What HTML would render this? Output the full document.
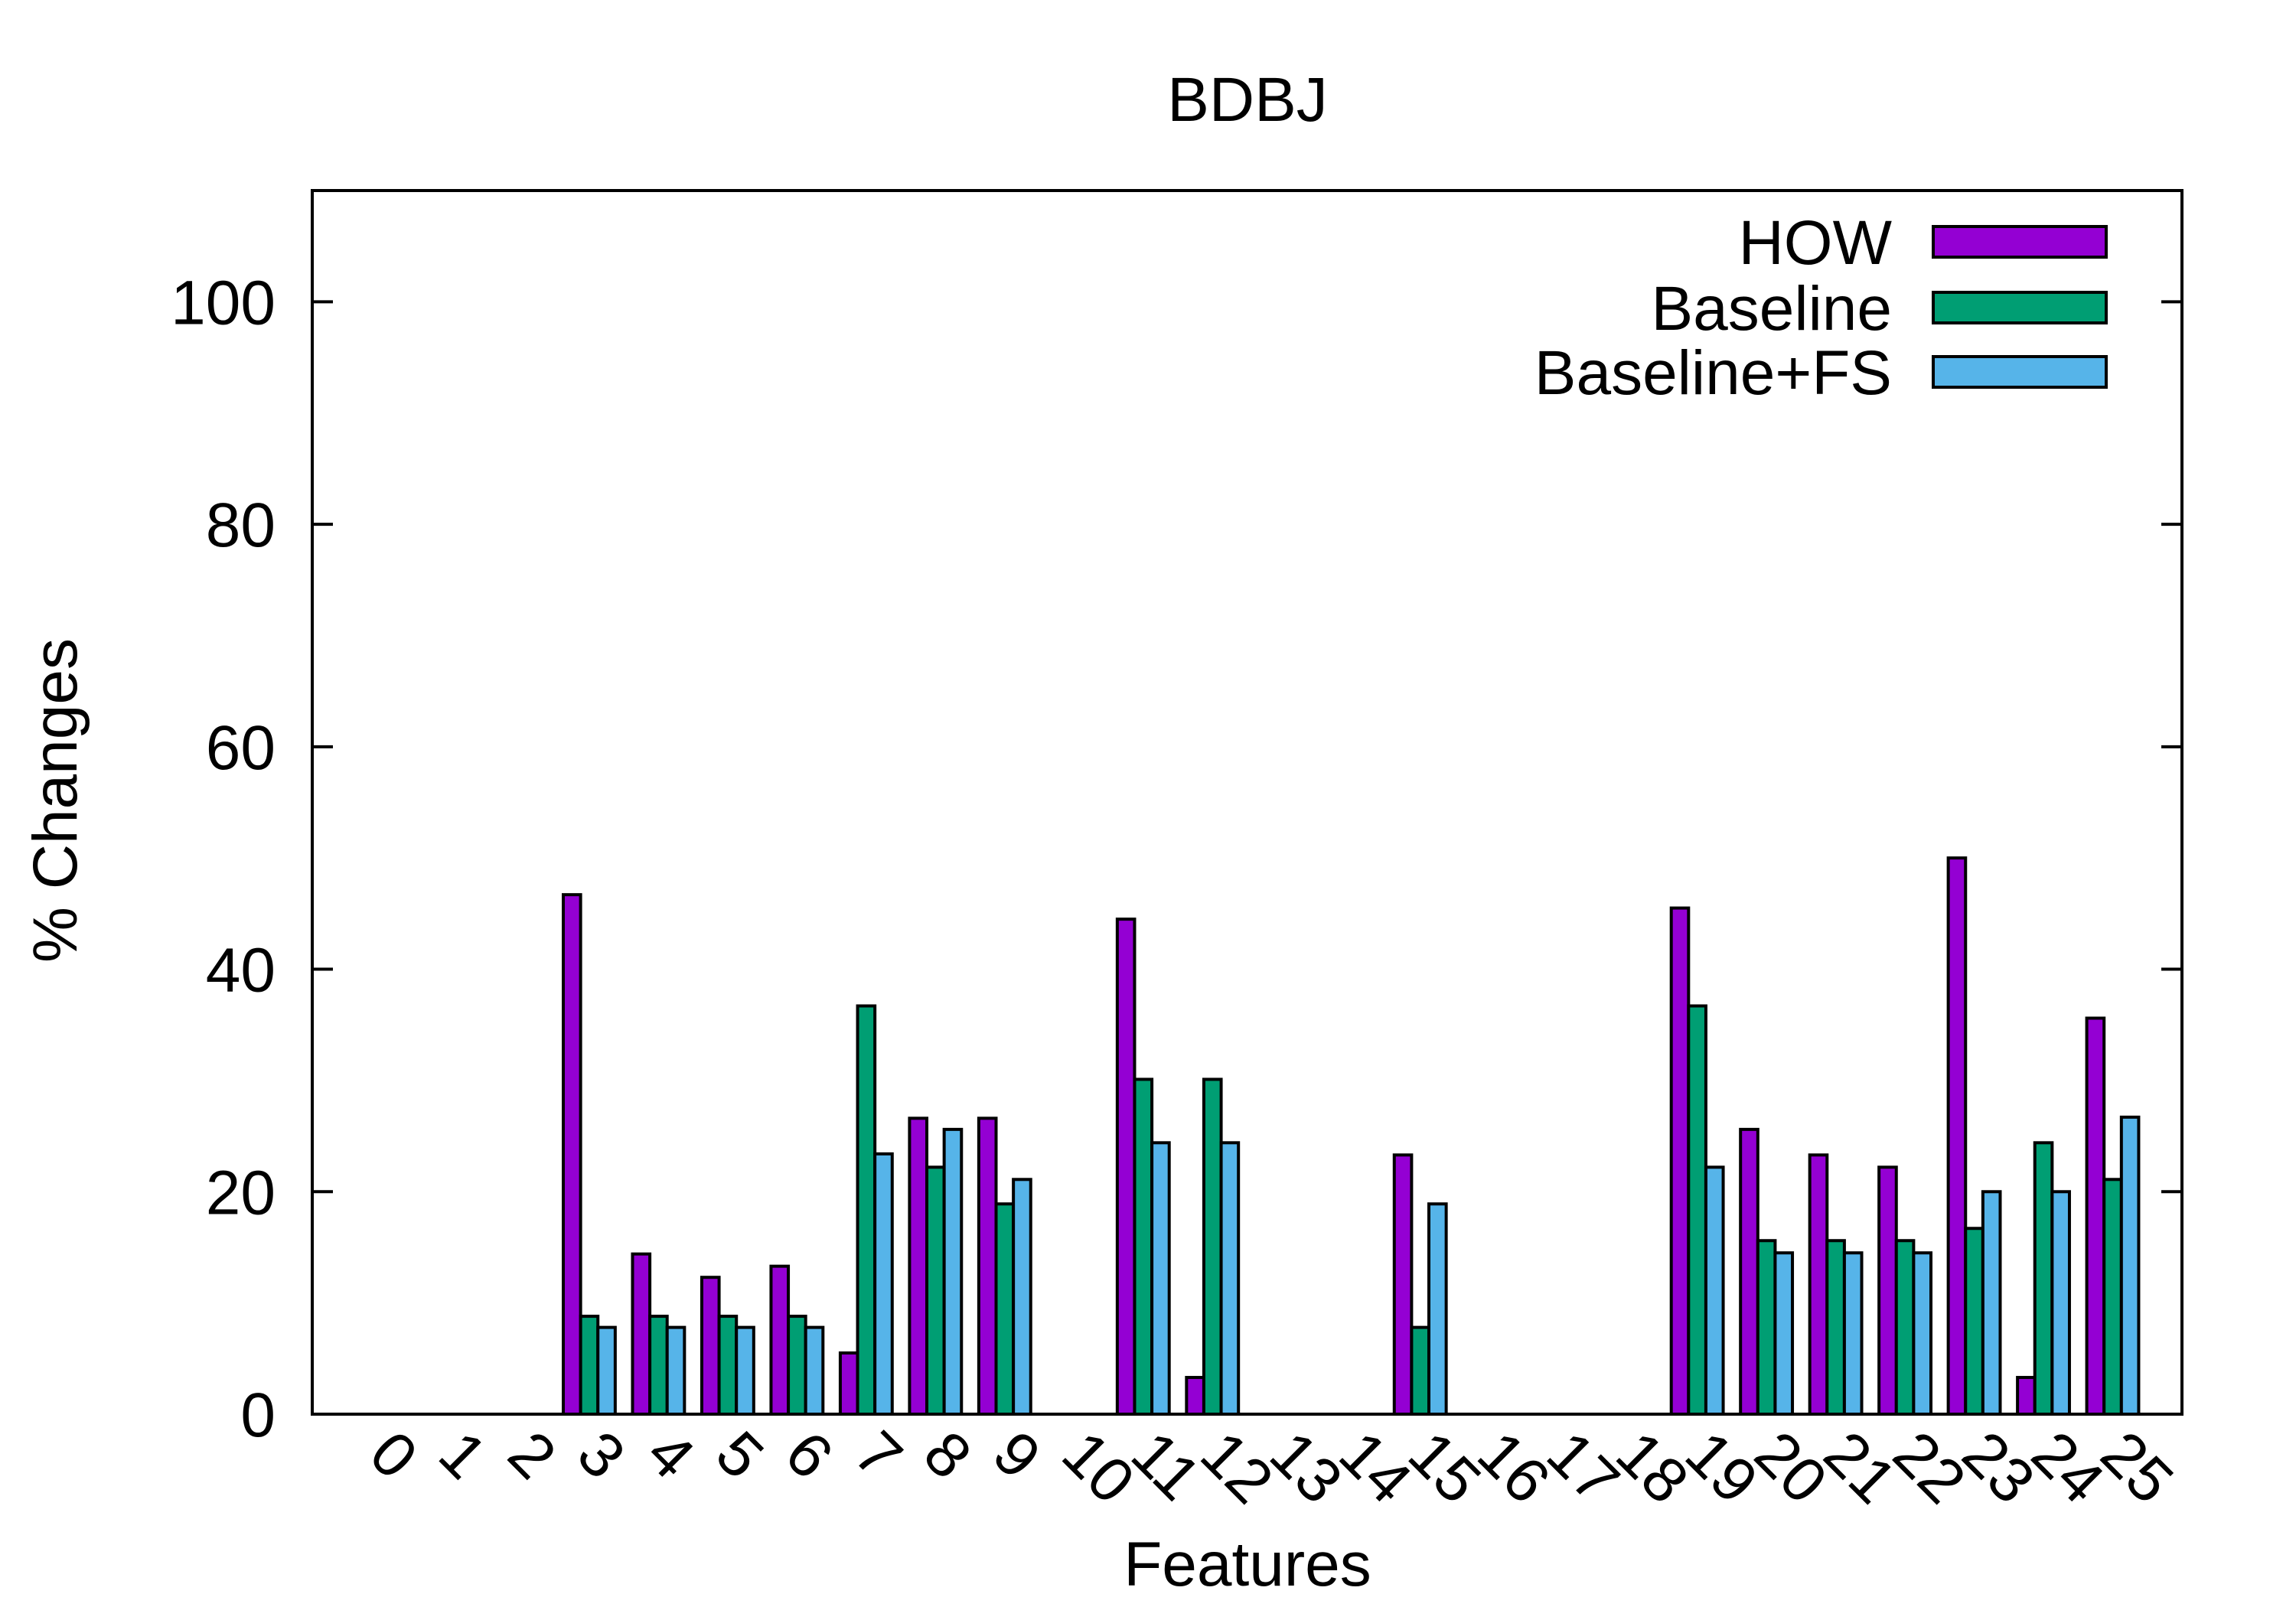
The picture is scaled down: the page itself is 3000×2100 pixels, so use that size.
<!DOCTYPE html>
<html><head><meta charset="utf-8"><style>
body{margin:0;background:#fff}
svg{display:block;font-family:"Liberation Sans",sans-serif}
</style></head><body>
<svg id="chart" width="3000" height="2100" viewBox="0 0 3000 2100">
<rect width="3000" height="2100" fill="#fff"/>
<text x="1630" y="158" font-size="82" text-anchor="middle">BDBJ</text>
<text transform="translate(100,1046) rotate(-90)" font-size="82" text-anchor="middle">% Changes</text>
<text x="1630" y="2072" font-size="82" text-anchor="middle">Features</text>
<g id="bars"></g>
<g id="axes"></g>
<g id="legend"></g>
</svg>
<script>
const categories = ["0","1","2","3","4","5","6","7","8","9","10","11","12","13","14","15","16","17","18","19","20","21","22","23","24","25"];
const howValues = [0,0,0,46.7,14.4,12.3,13.3,5.5,26.6,26.6,0,44.5,3.3,0,0,23.3,0,0,0,45.5,25.6,23.3,22.2,50,3.3,35.6];
const baselineValues = [0,0,0,8.8,8.8,8.8,8.8,36.7,22.2,18.9,0,30.1,30.1,0,0,7.8,0,0,0,36.7,15.6,15.6,15.6,16.7,24.4,21.1];
const baselineFsValues = [0,0,0,7.8,7.8,7.8,7.8,23.4,25.6,21.1,0,24.4,24.4,0,0,18.9,0,0,0,22.2,14.5,14.5,14.5,20,20,26.7];
const yTicks = [0,20,40,60,80,100];
const seriesNames = ["HOW","Baseline","Baseline+FS"];
const seriesColors = ["#9400d3","#009e73","#56b4e9"];

const NS = "http://www.w3.org/2000/svg";
const L = 408, R = 2851, T = 249, B = 1848;
const xMin = -1, xMax = 26, yMin = 0, yMax = 110;
function xs(v){ return L + (v - xMin) / (xMax - xMin) * (R - L); }
function ys(v){ return B - (v - yMin) / (yMax - yMin) * (B - T); }
function mk(tag, attrs, parent){ const e = document.createElementNS(NS, tag); for (const k in attrs) e.setAttribute(k, attrs[k]); parent.appendChild(e); return e; }

const bars = document.getElementById('bars');
const allSeries = [howValues, baselineValues, baselineFsValues];
const step = (R - L) / (xMax - xMin);
const bw = step * 0.75 / 3;
allSeries.forEach((vals, s) => {
  vals.forEach((v, i) => {
    if (v <= 0) return;
    const x0 = xs(i) - 1.5 * bw + s * bw;
    const r = mk('rect', {x: x0, y: ys(v), width: bw, height: ys(0) - ys(v), fill: seriesColors[s], stroke: '#000', 'stroke-width': 4}, bars);
    
    
  });
});

const axes = document.getElementById('axes');
yTicks.forEach(t => {
  const y = ys(t);
  const tl = mk('line', {x1: L, x2: L + 27, y1: y, y2: y, stroke: '#000', 'stroke-width': 4}, axes);
  
  
  const tr = mk('line', {x1: R, x2: R - 27, y1: y, y2: y, stroke: '#000', 'stroke-width': 4}, axes);
  
  
  const lb = mk('text', {x: 360, y: y + 29, 'font-size': 82, 'text-anchor': 'end'}, axes);
  lb.textContent = t;
  
  
});
categories.forEach((c, i) => {
  const x = xs(i) - 20;
  const lb = mk('text', {transform: 'translate(' + x + ',1905) rotate(45)', 'font-size': 82}, axes);
  lb.textContent = c;
  
  
});
const frame = mk('rect', {x: L, y: T, width: R - L, height: B - T, fill: 'none', stroke: '#000', 'stroke-width': 4}, axes);



const legend = document.getElementById('legend');
const legY = [316, 402, 486];
seriesNames.forEach((n, s) => {
  const t = mk('text', {x: 2472, y: legY[s] + 29, 'font-size': 82, 'text-anchor': 'end'}, legend);
  t.textContent = n;
  
  
  const r = mk('rect', {x: 2526, y: legY[s] - 20, width: 226, height: 40, fill: seriesColors[s], stroke: '#000', 'stroke-width': 4}, legend);
  
  
});
</script>
</body></html>
